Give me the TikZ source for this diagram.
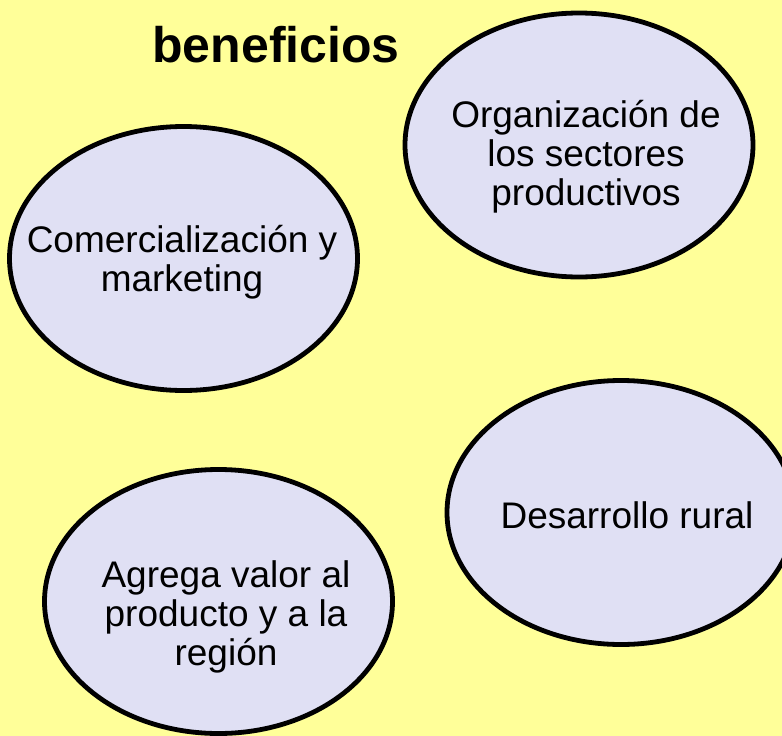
\documentclass[tikz,border=0pt]{standalone}
\usepackage{fontspec}
\setmainfont{Liberation Sans}
\usetikzlibrary{shapes.geometric}
\definecolor{bgyellow}{HTML}{FFFF99}
\definecolor{lav}{HTML}{E0E0F4}
\tikzset{
  bubble/.style={ellipse, draw=black, line width=4.8pt, fill=lav, inner sep=0pt,
    minimum width=348pt, minimum height=264pt},
  btext/.style={align=center, font=\fontsize{37}{39}\selectfont, inner sep=0pt},
  title/.style={font=\fontsize{50}{56}\selectfont\bfseries, inner sep=0pt}
}
\begin{document}
\begin{tikzpicture}[x=1pt,y=-1pt]
\useasboundingbox (0,0) rectangle (782,736);
\clip (0,0) rectangle (782,736);
\fill[bgyellow] (0,0) rectangle (782,736);
\node[title, anchor=base] (tit) at (276,62) {beneficios};
\node[bubble] (e1) at (183.5,258.5) {};
\node[bubble] (e2) at (579,145) {};
\node[bubble] (e3) at (621,512.5) {};
\node[bubble] (e4) at (218.5,601.5) {};
\node[btext] (t1) at (182,262) {Comercialización y\\marketing};
\node[btext] (t2) at (586,157) {Organización de\\los sectores\\productivos};
\node[btext, anchor=base] (t3) at (627,528) {Desarrollo rural};
\node[btext] (t4) at (226,617) {Agrega valor al\\producto y a la\\región};
\end{tikzpicture}
\end{document}
